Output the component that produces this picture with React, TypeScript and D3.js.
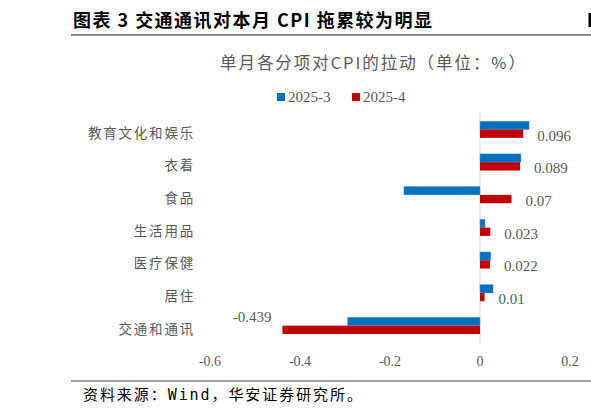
import * as d3 from 'd3';

const categories = ['教育文化和娱乐', '衣着', '食品', '生活用品', '医疗保健', '居住', '交通和通讯'];
const march = [0.109, 0.091, -0.169, 0.011, 0.024, 0.029, -0.294];
const april = [0.096, 0.089, 0.07, 0.023, 0.022, 0.01, -0.439];
const seriesNames = ['2025-3', '2025-4'];
const seriesColors = ['#0070C0', '#C00000'];
const xTicks = [-0.6, -0.4, -0.2, 0, 0.2];

const W = 591;
const H = 416;
const serif = '"Liberation Serif", "Times New Roman", serif';
const cjk = '"Noto Sans CJK SC", sans-serif';
const grey = '#595959';

export default function App() {
  const x = d3.scaleLinear().domain([-0.6, 0.2]).range([210, 570]);
  const y = d3.scaleBand<string>().domain(categories).range([113.2, 342]);
  const barH = 8.3;
  const fmt = (v: number) => String(v);

  return (
    <svg width={W} height={H} style={{ position: 'absolute', left: 0, top: 0, background: '#fff' }}>
      {/* header */}
      <text x={73} y={27} fontFamily={cjk} fontWeight={700} fontSize={18} fill="#000"
        textLength={359} lengthAdjust="spacing">图表 3 交通通讯对本月 CPI 拖累较为明显</text>
      <rect x={588.5} y={13} width={2.5} height={14} fill="#000" />
      <line x1={71} x2={591} y1={35} y2={35} stroke="#8c8c8c" strokeWidth={2} />

      {/* chart title */}
      <text x={220} y={69} fontFamily={cjk} fontSize={16.5} fill={grey}
        textLength={305} lengthAdjust="spacing">单月各分项对CPI的拉动（单位：%）</text>

      {/* legend */}
      {seriesNames.map((name, i) => (
        <g key={name} transform={`translate(${277 + i * 75},0)`}>
          <rect x={0} y={93} width={8} height={8} fill={seriesColors[i]} />
          <text x={11} y={97} dominantBaseline="central" fontFamily={serif} fontSize={15} fill={grey}>{name}</text>
        </g>
      ))}

      {/* zero line */}
      <line x1={x(0)} x2={x(0)} y1={113} y2={343} stroke="#d9d9d9" strokeWidth={1} />

      {/* bars */}
      {categories.map((c, i) => {
        const cy = (y(c) ?? 0) + y.bandwidth() / 2;
        return (
          <g key={c}>
            <rect x={x(Math.min(0, march[i]))} y={cy - barH} width={Math.abs(x(march[i]) - x(0))}
              height={barH} fill={seriesColors[0]} stroke="#4f95d6" strokeWidth={0.5} />
            <rect x={x(Math.min(0, april[i]))} y={cy} width={Math.abs(x(april[i]) - x(0))}
              height={barH} fill={seriesColors[1]} />
            {april[i] >= 0 ? (
              <text x={x(april[i]) + 14} y={cy + 6} dominantBaseline="central" fontFamily={serif}
                fontSize={15} fill={grey}>{fmt(april[i])}</text>
            ) : (
              <text x={x(april[i]) - 11} y={cy - 9} dominantBaseline="central" textAnchor="end"
                fontFamily={serif} fontSize={15} fill={grey}>{fmt(april[i])}</text>
            )}
            <text x={195} y={cy + 2} dominantBaseline="central" textAnchor="end" fontFamily={cjk}
              fontSize={13.5} letterSpacing={1.8} fill={grey}>{c}</text>
          </g>
        );
      })}

      {/* x axis labels */}
      {xTicks.map(t => (
        <text key={t} x={x(t)} y={361} dominantBaseline="central" textAnchor="middle"
          fontFamily={serif} fontSize={14} fill={grey}>{fmt(t)}</text>
      ))}

      {/* footer */}
      <line x1={71} x2={591} y1={381} y2={381} stroke="#404040" strokeWidth={1.2} />
      <text x={83} y={400} fontFamily={cjk} fontSize={15} fill="#000" textLength={279} lengthAdjust="spacing">
        资料来源：<tspan fontFamily='"DejaVu Sans Mono", monospace'>Wind</tspan>，华安证券研究所。
      </text>
    </svg>
  );
}
